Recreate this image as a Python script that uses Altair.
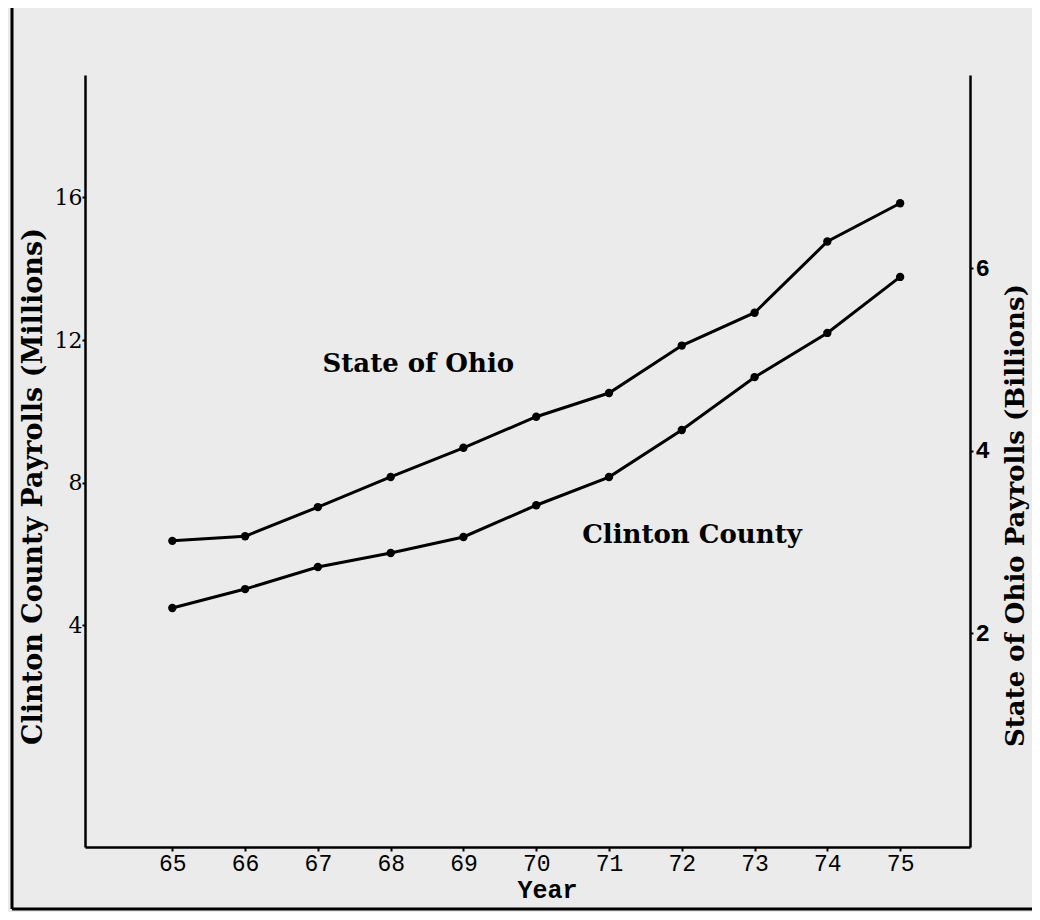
import altair as alt
import pandas as pd

# ---- data ----
years = [65, 66, 67, 68, 69, 70, 71, 72, 73, 74, 75]
ohio_billions = [3.01, 3.06, 3.38, 3.71, 4.03, 4.37, 4.63, 5.15, 5.51, 6.29, 6.71]
clinton_millions = [4.49, 5.02, 5.64, 6.03, 6.48, 7.37, 8.16, 9.48, 10.96, 12.20, 13.77]

left_ticks = [4, 8, 12, 16]
right_ticks = [2, 4, 6]

ohio_label = ["State of Ohio"]
ohio_label_year = [68.38]
ohio_label_value = [4.86]
clinton_label = ["Clinton County"]
clinton_label_year = [72.14]
clinton_label_value = [6.31]

df = pd.DataFrame({"year": years, "ohio": ohio_billions, "clinton": clinton_millions})
df_ohio_txt = pd.DataFrame({"year": ohio_label_year, "ohio": ohio_label_value, "t": ohio_label})
df_clin_txt = pd.DataFrame({"year": clinton_label_year, "clinton": clinton_label_value, "t": clinton_label})

W, H = 885, 772
INK = "black"
SERIF = "DejaVu Serif"
MONO = "Liberation Mono"

xscale = alt.Scale(domain=[63.8, 75.96], nice=False, zero=False)
xaxis = alt.Axis(
    values=years, format="d", title="Year", grid=False,
    labelFont=MONO, labelFontSize=23, labelColor=INK, labelPadding=1,
    titleFont=MONO, titleFontSize=25, titleFontWeight="bold", titleColor=INK,
    titleX=462, titleY=50, titleAlign="center", titleBaseline="alphabetic",
    domainColor=INK, domainWidth=2.5, tickColor=INK, tickWidth=2, tickSize=4,
)
x_enc = alt.X("year:Q", scale=xscale, axis=xaxis)

lscale = alt.Scale(domain=[-2.21, 19.43], nice=False, zero=False)
laxis = alt.Axis(
    orient="left", values=left_ticks, title="Clinton County Payrolls (Millions)", grid=False,
    labelFont=SERIF, labelFontSize=22, labelColor=INK, labelPadding=0,
    titleFont=SERIF, titleFontSize=27, titleColor=INK, titleFontWeight="bold",
    titleAngle=270, titleX=-52, titleY=411, titleAlign="center", titleBaseline="middle",
    domainColor=INK, domainWidth=2.5, tickColor=INK, tickWidth=2, tickSize=3,
)
rscale = alt.Scale(domain=[-0.345, 8.115], nice=False, zero=False)
raxis = alt.Axis(
    orient="right", values=right_ticks, title="State of Ohio Payrolls (Billions)", grid=False,
    labelFont=MONO, labelFontSize=24, labelFontWeight="bold", labelColor=INK, labelPadding=2,
    titleFont=SERIF, titleFontSize=26, titleColor=INK, titleFontWeight="bold",
    titleAngle=270, titleX=45, titleY=440, titleAlign="center", titleBaseline="middle",
    domainColor=INK, domainWidth=2.5, tickColor=INK, tickWidth=2, tickSize=3,
)

yl = alt.Y("clinton:Q", scale=lscale, axis=laxis)
yr = alt.Y("ohio:Q", scale=rscale, axis=raxis)

base = alt.Chart(df)
left_group = alt.layer(
    base.mark_line(color=INK, strokeWidth=3).encode(x=x_enc, y=yl),
    base.mark_circle(color=INK, size=70, opacity=1).encode(x=x_enc, y=yl),
    alt.Chart(df_clin_txt).mark_text(font=SERIF, fontSize=26, fontWeight="bold", color=INK,
                                     align="center", baseline="alphabetic").encode(x=x_enc, y=yl, text="t:N"),
)
right_group = alt.layer(
    base.mark_line(color=INK, strokeWidth=3).encode(x=x_enc, y=yr),
    base.mark_circle(color=INK, size=70, opacity=1).encode(x=x_enc, y=yr),
    alt.Chart(df_ohio_txt).mark_text(font=SERIF, fontSize=26, fontWeight="bold", color=INK,
                                     align="center", baseline="alphabetic").encode(x=x_enc, y=yr, text="t:N"),
)

# page frame (left and bottom edges of the scanned sheet)
frame_src = pd.DataFrame({"k": [0]})
frame_left = alt.Chart(frame_src).mark_rule(color=INK, strokeWidth=3).encode(
    x=alt.value(-73), y=alt.value(-80), y2=alt.value(834))
frame_bottom = alt.Chart(frame_src).mark_rule(color=INK, strokeWidth=3).encode(
    x=alt.value(-73), x2=alt.value(960), y=alt.value(834))

chart = alt.layer(frame_left, frame_bottom, left_group, right_group).resolve_scale(y="independent").properties(
    width=W, height=H,
    padding={"left": 77, "top": 67, "right": 62, "bottom": 65},
    autosize=alt.AutoSizeParams(type="none"),
    background="#ebebeb",
).configure_view(stroke=None)

chart.save("out.html", embed_options={"renderer": "svg", "actions": False})
